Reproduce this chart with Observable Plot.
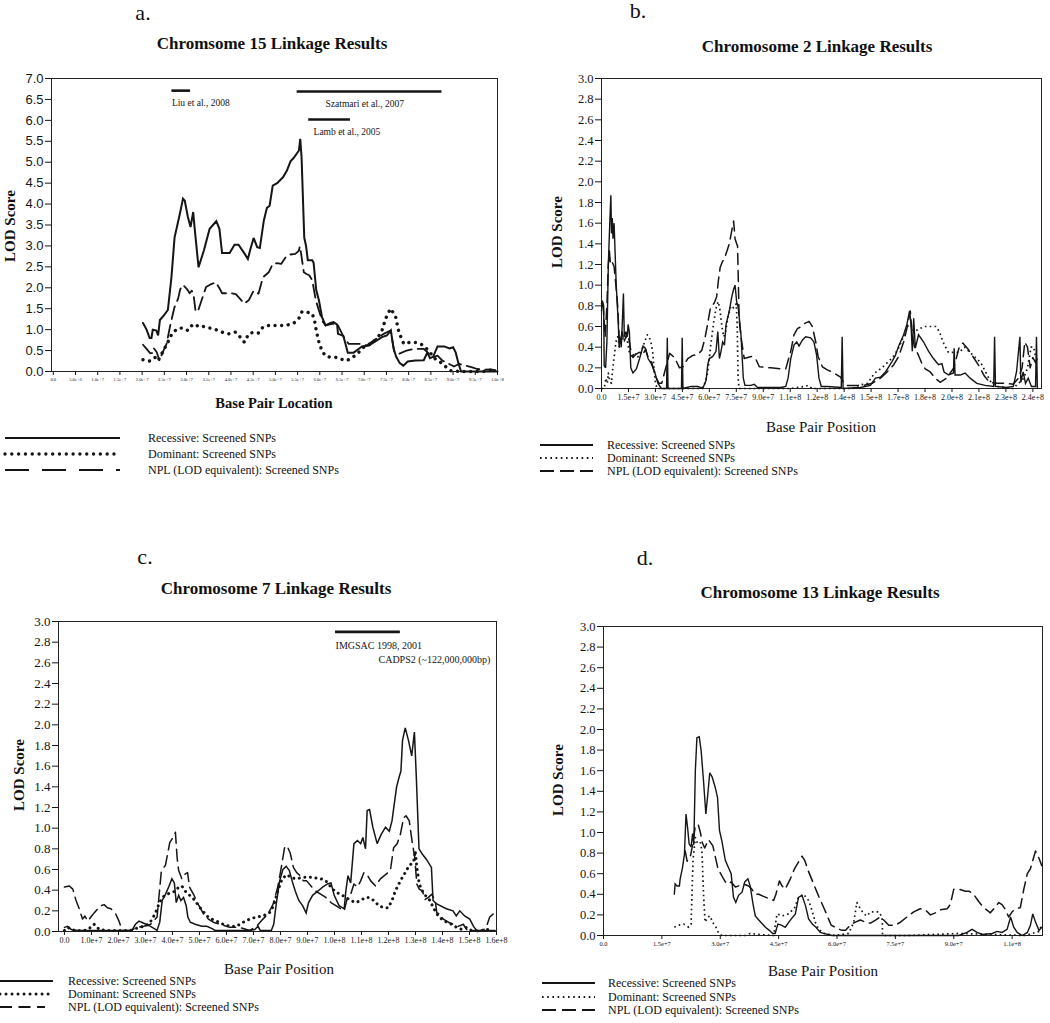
<!DOCTYPE html>
<html><head><meta charset="utf-8">
<script src="https://cdn.jsdelivr.net/npm/d3@7"></script>
<script src="https://cdn.jsdelivr.net/npm/@observablehq/plot@0.6"></script>
<style>
html,body{margin:0;padding:0;background:#fff}
body{width:1050px;height:1023px;position:relative;overflow:hidden;font-family:"Liberation Serif","Times New Roman",serif;color:#111}
.t{position:absolute;white-space:nowrap;line-height:1;transform:translate(-50%,-50%)}
.rot{transform:translate(-50%,-50%) rotate(-90deg)}
.b{font-weight:bold}
.panel{position:absolute}
.panel svg, .panel svg g, .panel svg text{font-family:"Liberation Serif","Times New Roman",serif !important}
#pa g[aria-label="y-axis tick label"], #pa g[aria-label="y-axis tick label"] text{font-family:"Liberation Sans",Arial,sans-serif !important}
.leg{position:absolute;white-space:nowrap;line-height:1;font-size:12px}
</style></head><body>
<script>
// ---------- DATA (x in megabases, y = LOD score) ----------
const seriesNames = ["Recessive: Screened SNPs", "Dominant: Screened SNPs", "NPL (LOD equivalent): Screened SNPs"];

// Chromosome 15
const chr15Recessive = [[20.2,1.16],[21.0,1.0],[21.7,0.8],[22.1,0.8],[22.4,1.0],[23.2,0.98],[23.6,0.86],[24.0,1.23],[24.9,1.34],[25.8,1.47],[26.6,2.25],[27.3,3.2],[28.5,3.77],[29.2,4.13],[29.6,4.08],[30.3,3.69],[30.9,3.45],[31.5,3.81],[31.8,3.45],[32.7,2.49],[33.9,2.89],[35.2,3.41],[36.7,3.59],[37.4,3.41],[38.0,2.83],[39.7,2.83],[40.8,3.03],[41.7,3.03],[43.1,2.81],[43.8,2.69],[44.4,2.93],[45.1,3.19],[45.9,2.97],[46.5,2.95],[47.4,3.61],[48.1,3.91],[48.7,3.96],[49.4,4.44],[50.4,4.5],[51.7,4.64],[52.6,4.8],[53.4,5.02],[54.1,5.1],[55.3,5.28],[55.6,5.56],[55.9,5.1],[56.5,3.2],[56.9,3.0],[57.3,2.66],[58.3,2.66],[58.6,2.6],[59.2,1.94],[59.8,1.7],[60.5,1.3],[61.3,1.1],[62.4,1.16],[63.1,1.18],[63.9,1.12],[64.1,0.9],[65.3,0.85],[65.8,0.65],[66.3,0.45],[67.6,0.45],[68.5,0.52],[69.5,0.6],[71.0,0.62],[72.5,0.72],[74.0,0.82],[75.1,0.86],[76.0,0.98],[76.6,0.55],[77.2,0.35],[78.0,0.2],[78.8,0.14],[79.8,0.24],[81.5,0.26],[83.4,0.27],[84.2,0.45],[84.8,0.32],[85.5,0.35],[86.5,0.6],[88.0,0.6],[89.2,0.55],[90.0,0.58],[90.6,0.45],[91.2,0.2],[91.8,0.0],[100.0,0.0]];
const chr15Dominant = [[20.2,0.28],[21.7,0.25],[23.0,0.34],[23.6,0.26],[24.8,0.5],[25.6,0.66],[26.7,0.9],[27.9,1.02],[29.0,1.04],[30.3,0.98],[31.2,1.1],[31.8,1.06],[32.7,1.11],[34.2,1.06],[36.1,1.02],[38.0,0.94],[39.5,0.9],[41.0,0.94],[42.1,0.82],[43.0,0.7],[44.0,0.9],[45.1,0.94],[46.2,0.92],[47.2,1.06],[48.5,1.1],[50.4,1.1],[52.3,1.1],[54.1,1.15],[55.3,1.27],[56.0,1.43],[57.1,1.42],[58.3,1.38],[58.8,1.23],[59.2,0.98],[59.8,0.7],[60.5,0.49],[61.3,0.37],[62.4,0.34],[63.5,0.34],[64.6,0.3],[66.1,0.26],[67.3,0.33],[68.4,0.42],[69.9,0.58],[71.4,0.66],[72.9,0.78],[74.0,0.98],[74.8,1.26],[75.9,1.5],[77.0,1.34],[77.8,0.94],[78.9,0.66],[80.4,0.7],[81.9,0.69],[83.4,0.62],[84.9,0.44],[86.0,0.3],[87.2,0.22],[88.3,0.12],[89.4,0.02],[91.7,0],[94.7,0],[97.7,0],[99.2,0.06]];
const chr15NPL = [[20.2,0.64],[21.0,0.54],[21.8,0.44],[22.3,0.44],[22.6,0.56],[23.3,0.46],[23.9,0.26],[24.6,0.45],[25.5,0.66],[26.4,1.14],[27.3,1.54],[28.1,1.74],[28.6,1.97],[29.2,2.07],[30.1,1.97],[30.7,1.87],[31.2,1.93],[31.6,1.82],[32.0,1.46],[32.5,1.42],[33.5,1.74],[34.4,2.02],[35.4,2.08],[36.6,2.13],[37.5,1.97],[38.0,1.87],[39.9,1.87],[41.1,1.85],[42.1,1.73],[43.0,1.62],[44.0,1.7],[45.1,1.93],[46.2,1.86],[47.2,2.25],[48.5,2.37],[49.4,2.57],[50.4,2.59],[51.3,2.57],[52.3,2.73],[53.0,2.79],[54.5,2.81],[55.3,2.89],[55.5,2.99],[55.8,2.81],[56.4,2.37],[57.0,2.33],[57.6,2.3],[58.3,2.18],[59.1,1.7],[59.8,1.46],[60.5,1.22],[61.3,1.1],[62.8,1.14],[63.9,1.14],[65.4,0.82],[66.5,0.66],[67.6,0.66],[69.1,0.66],[70.6,0.62],[72.1,0.74],[74.4,0.9],[75.9,0.98],[76.8,0.46],[77.8,0.42],[79.3,0.49],[81.2,0.54],[83.4,0.54],[84.6,0.42],[85.4,0.34],[86.5,0.38],[87.6,0.26],[89.1,0.18],[90.2,0.12],[91.3,0.18],[92.8,0.14],[94.3,0.1],[95.4,0.06],[96.9,0.04],[98.4,0.05],[99.5,0.03]];
const chr15Studies = [
  {label: "Liu et al., 2008", start: 26.7, end: 30.9, lod: 6.71, labelAt: 26.7},
  {label: "Szatmari et al., 2007", start: 54.9, end: 87.5, lod: 6.69, labelAt: 61.3},
  {label: "Lamb et al., 2005", start: 57.5, end: 66.9, lod: 6.02, labelAt: 58.6}
];

// Chromosome 2
const chr2Recessive = [[0,0.75],[0.5,0.85],[1.2,0.8],[1.5,0.22],[2.3,0.2],[3.0,0.45],[3.8,1.2],[4.6,1.6],[5.2,1.87],[5.6,1.5],[6.0,1.65],[6.4,1.45],[7.0,1.6],[7.6,1.3],[8.2,1.0],[8.8,0.8],[9.3,0.65],[9.8,0.4],[10.3,0.5],[11.0,0.4],[11.5,0.6],[12.2,0.92],[12.7,0.5],[13.5,0.55],[14.3,0.5],[14.8,0.62],[15.5,0.55],[16.3,0.2],[17.5,0.15],[19.4,0.19],[21.2,0.29],[23.1,0.41],[24.4,0.39],[25.9,0.29],[27.7,0.24],[29.6,0.16],[31.4,0.05],[33.3,0],[36.2,0],[36.6,0.49],[37.0,0],[44.5,0],[44.9,0.49],[45.3,0],[49.9,0.02],[53.6,0.02],[56.3,0],[58.2,0.08],[59.1,0.23],[60.0,0.29],[61.9,0.31],[63.7,0.36],[64.7,0.55],[65.6,0.29],[66.5,0.36],[67.4,0.45],[68.4,0.42],[69.3,0.62],[71.1,0.75],[72.4,0.88],[73.5,0.96],[74.3,1.0],[75.2,0.84],[76.1,0.78],[77.6,0.52],[78.9,0.1],[79.8,0.03],[83.1,0.03],[85.0,0.04],[86.8,0.01],[92.4,0.01],[99.8,0.01],[102.5,0.02],[103.8,0.1],[105.3,0.29],[107.1,0.42],[108.6,0.45],[109.9,0.41],[111.8,0.47],[113.6,0.5],[116.4,0.49],[118.2,0.45],[119.7,0.32],[121.0,0.1],[122.3,0.02],[125.6,0.02],[133.4,0.01],[133.9,0.5],[134.4,0],[144.1,0.01],[149.6,0.03],[152.4,0.1],[155.2,0.11],[158.0,0.16],[159.8,0.21],[161.6,0.26],[163.5,0.32],[165.3,0.41],[168.1,0.52],[169.9,0.62],[171.4,0.75],[172.2,0.62],[172.9,0.36],[173.7,0.68],[174.6,0.39],[176.4,0.52],[179.2,0.45],[182.0,0.36],[184.7,0.29],[187.5,0.23],[189.4,0.24],[190.6,0.16],[193.1,0.13],[195.8,0.15],[196.2,0.39],[196.7,0.13],[199.5,0.13],[202.3,0.15],[205.1,0.1],[208.8,0.05],[213.4,0.03],[218.2,0.02],[218.7,0.5],[219.2,0.02],[225.4,0.01],[229.1,0.02],[230.9,0.16],[232.8,0.5],[233.3,0.06],[234.6,0.16],[235.9,0.05],[237.4,0.1],[239.2,0.02],[241.5,0.02],[242.0,0.5],[242.5,0]];
const chr2Dominant = [[0,0],[1.5,0],[2.5,0.1],[3.2,0.05],[3.8,0.15],[4.5,0.08],[5.5,0.05],[6.0,0.15],[7.0,0.3],[8.0,0.45],[9.0,0.5],[10.0,0.4],[11.0,0.45],[12.5,0.5],[13.5,0.5],[14.5,0.45],[15.5,0.35],[17.0,0.3],[18.5,0.35],[20,0.3],[22,0.35],[24,0.45],[25.5,0.52],[26.5,0.5],[27.5,0.45],[28.5,0.35],[29.2,0.2],[30,0.05],[31,0],[55,0],[57,0.02],[59,0.15],[61,0.45],[62.5,0.65],[64,0.8],[65,0.84],[66,0.75],[67,0.6],[68,0.5],[69,0.55],[70.5,0.7],[72,0.8],[73.5,0.78],[75,0.82],[75.5,0.6],[76,0.1],[76.5,0],[85,0],[105,0],[113,0.02],[115,0.03],[117,0],[140,0],[143,0.03],[148,0.05],[152,0.15],[156,0.2],[159,0.25],[162,0.3],[165,0.38],[168,0.5],[170,0.6],[172,0.62],[174,0.55],[177,0.58],[180,0.6],[183,0.6],[186,0.6],[188,0.55],[190,0.45],[193,0.35],[196,0.35],[199,0.35],[202,0.4],[205,0.35],[208,0.3],[211,0.25],[214,0.15],[217,0.05],[220,0.02],[229,0],[232,0.05],[235,0.1],[237,0.2],[239,0.4],[240.5,0.4],[241.5,0.3]];
const chr2NPL = [[0,0.82],[1,0.78],[2,0.5],[3,0.8],[3.8,1.2],[4.4,1.33],[5.0,1.2],[6,1.22],[7,1.18],[8,1.0],[9,0.8],[9.8,0.5],[10.5,0.45],[11.5,0.55],[12.5,0.45],[13.5,0.5],[14.5,0.55],[15.5,0.45],[16.5,0.35],[17.5,0.3],[19,0.33],[21,0.35],[23,0.33],[24.5,0.38],[26,0.3],[28,0.25],[30,0.12],[32,0.05],[33.5,0.05],[35,0.15],[36.5,0.25],[37.9,0.34],[40.6,0.3],[43.4,0.2],[45.3,0.21],[48.0,0.29],[50.8,0.32],[53.6,0.33],[55.8,0.37],[57.6,0.49],[59.1,0.63],[60.6,0.78],[62.8,0.83],[64.1,0.89],[65.0,1.04],[66.0,1.17],[67.1,1.22],[68.4,1.26],[69.8,1.33],[71.1,1.4],[72.4,1.52],[73.5,1.62],[74.3,1.45],[75.2,1.4],[75.7,1.38],[76.6,0.66],[77.6,0.5],[79.4,0.29],[81.3,0.3],[83.5,0.31],[86.0,0.28],[87.8,0.21],[94.2,0.2],[99.8,0.19],[102.5,0.19],[105.3,0.36],[107.1,0.52],[109.0,0.58],[111.2,0.6],[113.1,0.63],[115.5,0.65],[117.3,0.6],[119.2,0.45],[120.5,0.31],[122.9,0.21],[125.6,0.18],[128.4,0.16],[131.2,0.13],[133.0,0.11],[134.9,0.05],[136.7,0.03],[140.4,0.03],[146.0,0.03],[150.6,0.05],[155.2,0.1],[158.9,0.16],[162.6,0.23],[165.3,0.31],[168.1,0.45],[169.9,0.58],[171.8,0.75],[172.7,0.55],[174.0,0.41],[176.4,0.32],[178.3,0.24],[180.1,0.19],[182.9,0.16],[185.7,0.1],[188.4,0.06],[192,0.1],[196,0.2],[199,0.4],[201,0.44],[204,0.38],[207,0.3],[210,0.22],[213,0.12],[216,0.06],[220,0.05],[225,0.05],[229,0.04],[232,0.1],[234,0.2],[235.5,0.45],[237,0.4],[238.5,0.2],[240,0.3],[241.5,0.25],[242.5,0.3]];

// Chromosome 7
const chr7Recessive = [[0,0.04],[1.2,0.05],[2.5,0.02],[4.9,0.01],[9.8,0.01],[15.9,0.01],[19.6,0.01],[25.0,0.01],[26.3,0.07],[27.6,0.1],[29.4,0.08],[31.9,0.05],[34.3,0.01],[35.3,0.09],[36.2,0.3],[37.4,0.36],[38.6,0.43],[39.8,0.51],[40.7,0.47],[41.4,0.28],[42.3,0.35],[43.1,0.3],[44.1,0.33],[45.1,0.25],[45.7,0.14],[46.6,0.09],[48.4,0.07],[50.9,0.05],[52.7,0.05],[54.5,0.03],[55.8,0.01],[63.7,0.01],[68.6,0.01],[70.5,0.02],[71.7,0.05],[72.5,0.01],[76.6,0.01],[77.5,0.07],[78.4,0.26],[79.7,0.49],[80.9,0.6],[82.1,0.63],[83.3,0.59],[84.3,0.49],[85.5,0.39],[86.8,0.3],[88.2,0.25],[89.5,0.18],[90.4,0.28],[91.9,0.35],[93.8,0.39],[95.6,0.43],[97.4,0.46],[98.7,0.47],[99.9,0.35],[101.7,0.25],[103.6,0.22],[104.2,0.39],[105.0,0.54],[106.0,0.47],[107.2,0.85],[108.5,0.88],[109.7,0.85],[110.5,0.91],[111.5,0.8],[112.1,1.17],[113.0,1.18],[114.2,1.01],[115.8,0.85],[117.3,0.94],[118.9,1.01],[120.3,0.97],[121.3,1.07],[123.0,1.4],[124.0,1.5],[124.6,1.55],[125.2,1.85],[126.2,1.97],[127.4,1.85],[128.6,1.7],[129.6,1.93],[130.3,1.5],[131.3,0.8],[132.5,0.75],[134.0,0.7],[135.9,0.62],[136.5,0.3],[137.7,0.27],[141.4,0.22],[143.9,0.2],[145.1,0.15],[146.4,0.2],[148.2,0.15],[150.1,0.12],[151.5,0.05],[152.9,0.0],[156,0.01],[159.5,0.01]];
const chr7Dominant = [[0,0.01],[1.2,0.04],[3.7,0.01],[7.4,0.01],[9.8,0.04],[11.0,0.07],[12.9,0.02],[15.3,0.01],[19.6,0.01],[24.5,0.01],[27.6,0.04],[29.4,0.05],[31.2,0.07],[32.5,0.12],[33.7,0.18],[34.9,0.26],[36.2,0.33],[38.0,0.36],[39.8,0.38],[41.1,0.39],[42.3,0.43],[43.5,0.44],[44.7,0.39],[46.0,0.36],[47.2,0.33],[48.4,0.3],[49.6,0.25],[51.2,0.2],[52.7,0.15],[54.5,0.12],[56.4,0.1],[58.8,0.07],[61.3,0.05],[63.7,0.05],[66.2,0.09],[68.6,0.12],[71.1,0.14],[73.5,0.15],[75.9,0.18],[77.5,0.25],[79.0,0.39],[80.6,0.51],[82.4,0.55],[84.0,0.52],[85.8,0.51],[87.6,0.52],[90.1,0.53],[92.5,0.52],[95.0,0.51],[96.8,0.49],[98.7,0.43],[100.5,0.38],[102.3,0.36],[104.2,0.33],[106.0,0.3],[107.8,0.28],[109.7,0.3],[111.5,0.33],[112.7,0.33],[114.6,0.3],[116.4,0.25],[118.3,0.23],[119.9,0.23],[121.3,0.3],[122.5,0.39],[124.4,0.49],[126.2,0.57],[127.7,0.64],[129.3,0.67],[129.9,0.78],[130.5,0.62],[131.4,0.46],[132.6,0.39],[134.2,0.33],[135.4,0.3],[136.6,0.23],[137.9,0.17],[139.7,0.12],[141.5,0.09],[143.4,0.07],[145.2,0.04],[147.1,0.02],[148.9,0.04],[150.7,0.01],[154.4,0.01],[156.9,0.02],[158.7,0.01]];
const chr7NPL = [[0,0.43],[1.8,0.44],[3.1,0.41],[4.3,0.3],[5.5,0.22],[6.7,0.12],[7.6,0.15],[8.6,0.1],[9.8,0.14],[11.0,0.18],[12.3,0.22],[13.5,0.25],[14.7,0.26],[15.9,0.23],[17.2,0.22],[19.0,0.17],[20.2,0.1],[21.4,0.01],[24.5,0.01],[27.0,0.04],[29.4,0.05],[31.9,0.07],[34.3,0.14],[35.9,0.59],[37.4,0.64],[39.0,0.86],[40.2,0.91],[41.1,0.96],[41.7,0.72],[42.3,0.59],[43.5,0.51],[44.4,0.55],[45.6,0.57],[46.3,0.43],[47.8,0.36],[49.6,0.26],[51.5,0.17],[53.3,0.12],[55.1,0.09],[57.6,0.07],[61.3,0.04],[64.9,0.04],[68.6,0.01],[71.1,0.05],[73.5,0.12],[75.4,0.17],[77.2,0.26],[79.0,0.43],[80.3,0.62],[81.5,0.81],[82.4,0.83],[83.6,0.76],[84.8,0.62],[86.0,0.57],[87.3,0.54],[88.5,0.49],[89.7,0.49],[91.3,0.44],[93.1,0.39],[95.0,0.36],[96.8,0.33],[98.7,0.28],[99.9,0.26],[101.7,0.23],[103.6,0.2],[104.8,0.33],[106.0,0.36],[107.2,0.46],[108.5,0.43],[109.7,0.49],[110.9,0.57],[112.1,0.55],[113.4,0.49],[115.2,0.44],[117.0,0.51],[118.9,0.55],[120.7,0.59],[121.9,0.81],[123.2,0.85],[124.4,0.94],[125.6,1.1],[126.5,1.12],[127.7,1.07],[128.7,0.88],[129.7,0.72],[130.5,0.46],[131.4,0.41],[132.6,0.39],[133.6,0.31],[134.8,0.33],[136.0,0.36],[137.3,0.3],[137.9,0.18],[139.1,0.17],[140.3,0.12],[142.2,0.09],[144.0,0.07],[145.8,0.05],[147.7,0.07],[148.9,0.02],[150.7,0.01],[153.2,0.01],[155.0,0.01],[156.3,0.05],[157.5,0.14],[158.8,0.17],[159.4,0.16]];
const chr7Studies = [
  {label: "IMGSAC 1998, 2001", start: 100.4, end: 124.4, lod: 2.9, labelAt: 100.4}
];
const chr7Gene = [{label: "CADPS2 (~122,000,000bp)", labelAt: 116.3, lod: 2.9}];

// Chromosome 13
const chr13Recessive = [[18.2,0.4],[18.4,0.5],[18.9,0.48],[19.5,0.48],[19.7,0.55],[20.3,0.66],[20.8,0.79],[21.2,1.18],[21.6,1.05],[22.0,0.89],[22.5,0.86],[22.9,0.99],[23.2,0.88],[23.6,1.6],[24.0,1.92],[24.6,1.93],[25.1,1.79],[25.7,1.5],[26.3,1.18],[26.8,1.37],[27.3,1.58],[27.9,1.54],[28.7,1.44],[29.3,1.34],[29.8,1.02],[30.4,0.92],[31.3,0.73],[32.1,0.66],[32.8,0.6],[33.4,0.37],[34.0,0.32],[34.7,0.39],[35.6,0.42],[36.3,0.52],[37.1,0.55],[37.7,0.48],[38.4,0.31],[39.0,0.19],[39.9,0.15],[40.9,0.11],[41.6,0.08],[42.6,0.05],[43.5,0.02],[44.1,0.02],[44.8,0.11],[45.7,0.1],[46.7,0.08],[48.0,0.15],[49.3,0.21],[50.1,0.37],[51.0,0.39],[51.9,0.29],[52.7,0.16],[53.7,0.11],[54.6,0.08],[55.7,0.03],[56.6,0.02],[58.7,0],[65.6,0],[74.1,0],[82.7,0],[91.3,0],[93.4,0.03],[94.7,0.06],[96.0,0.03],[97.3,0.01],[99.9,0.02],[101.1,0.04],[102.4,0.03],[103.7,0.06],[104.6,0.18],[105.4,0.08],[106.3,0.03],[107.6,0],[108.9,0.03],[109.7,0.1],[110.3,0.21],[111.0,0.13],[111.9,0.05],[112.6,0.08]];
const chr13Dominant = [[18.2,0.08],[19.3,0.1],[20.6,0.11],[21.9,0.08],[22.5,0.11],[23.0,0.73],[23.6,0.95],[24.2,0.89],[24.9,0.9],[25.3,0.82],[25.7,0.4],[26.1,0.13],[26.8,0.18],[27.4,0.19],[28.0,0.13],[28.9,0.08],[29.6,0.02],[30.4,0],[36.4,0],[37.7,0.02],[39.9,0.01],[43.7,0],[44.6,0.21],[45.9,0.19],[47.6,0.21],[49.1,0.27],[50.1,0.37],[51.4,0.4],[52.7,0.34],[53.6,0.24],[54.4,0.13],[55.3,0.06],[56.6,0.02],[59.6,0],[63.0,0.02],[64.3,0.13],[65.1,0.32],[66.0,0.26],[66.9,0.21],[67.7,0.19],[68.6,0.23],[69.4,0.23],[70.7,0.23],[71.6,0.18],[71.7,0],[78.4,0],[91.3,0.02],[99.9,0.01],[108.4,0],[111.9,0.04],[112.6,0.1]];
const chr13NPL = [[21.0,0.82],[21.5,0.72],[22.4,0.78],[23.0,0.9],[23.6,1.07],[24.4,1.07],[24.9,1.0],[25.4,0.9],[26.0,0.85],[27.0,0.93],[28.1,0.87],[29.4,0.65],[30.4,0.58],[31.3,0.52],[32.1,0.5],[32.8,0.52],[33.9,0.47],[36.0,0.5],[37.3,0.48],[38.1,0.45],[39.0,0.4],[39.9,0.4],[41.1,0.38],[42.4,0.36],[43.7,0.34],[44.3,0.4],[45.2,0.53],[45.9,0.48],[46.7,0.45],[48.0,0.55],[49.1,0.65],[51.0,0.77],[51.7,0.73],[52.7,0.62],[54.0,0.5],[55.3,0.38],[56.6,0.27],[57.4,0.2],[58.5,0.1],[60.0,0.07],[61.3,0.05],[62.2,0.05],[63.4,0.1],[64.7,0.13],[66.0,0.15],[67.3,0.13],[68.6,0.12],[69.9,0.15],[71.1,0.18],[72.0,0.15],[73.3,0.1],[75.0,0.1],[76.3,0.13],[78.0,0.18],[79.7,0.23],[81.4,0.26],[82.7,0.25],[84.0,0.2],[85.3,0.22],[86.6,0.25],[88.3,0.26],[89.1,0.3],[90.0,0.45],[91.3,0.45],[93.0,0.43],[93.9,0.43],[95.1,0.4],[96.4,0.33],[97.7,0.27],[99.4,0.22],[100.7,0.28],[101.6,0.32],[102.4,0.3],[103.3,0.25],[104.1,0.18],[105.0,0.23],[105.9,0.26],[107.1,0.27],[108.0,0.45],[108.9,0.6],[109.7,0.65],[111.0,0.82],[111.9,0.75],[112.6,0.68]];

// Axis ticks (megabases / LOD)
const chr15XTicks = d3.range(0, 100.1, 5);
const chr2XTicks = d3.range(0, 241, 15);
const chr7XTicks = d3.range(0, 161, 10);
const chr13XTicks = d3.range(0, 106, 15);
const chr15YTicks = d3.range(0, 7.01, 0.5);
const lodYTicks = d3.range(0, 3.01, 0.2);

// ---------- RENDERING ----------
const INK = "#151515";
const fmtBp = d => Math.abs(d) < 1e-9 ? "0.0" : (Math.round(d * 1e6)).toExponential(1);
const fmtLod = d3.format(".1f");

function addText(txt, x, y, cls, size) {
  const el = document.createElement("div");
  el.className = "t " + (cls || "");
  el.style.left = x + "px"; el.style.top = y + "px"; el.style.fontSize = size + "px";
  el.textContent = txt;
  document.body.appendChild(el);
}

function addLegend(rows, x0, x1, textLeft, ys, sty) {
  rows.forEach((name, i) => {
    const s = sty[i];
    const div = document.createElement("div");
    div.className = "leg";
    div.style.left = textLeft + "px"; div.style.top = (ys[i] - 6) + "px";
    div.textContent = name;
    document.body.appendChild(div);
    const ns = "http://www.w3.org/2000/svg";
    const svg = document.createElementNS(ns, "svg");
    svg.setAttribute("width", 1050); svg.setAttribute("height", 10);
    svg.style.position = "absolute"; svg.style.left = "0px"; svg.style.top = (ys[i] - 5) + "px";
    const ln = document.createElementNS(ns, "line");
    ln.setAttribute("x1", x0); ln.setAttribute("x2", s.x1 ?? x1);
    ln.setAttribute("y1", 5); ln.setAttribute("y2", 5);
    ln.setAttribute("stroke", INK);
    ln.setAttribute("stroke-width", s.w);
    if (s.dash) ln.setAttribute("stroke-dasharray", s.dash);
    if (s.cap) ln.setAttribute("stroke-linecap", s.cap);
    svg.appendChild(ln);
    document.body.appendChild(svg);
  });
}

function panel(o) {
  const marks = [
    Plot.frame({stroke: "#222", strokeWidth: 1}),
    Plot.axisX({ticks: o.xTicks, tickFormat: fmtBp, tickSize: 4, tickPadding: 2, fontSize: o.xFont, label: null}),
    Plot.axisY({ticks: o.yTicks, tickFormat: fmtLod, tickSize: 6, tickPadding: 2, fontSize: o.yFont, label: null}),
    Plot.line(o.npl, {x: d => d[0], y: d => d[1], stroke: INK, strokeWidth: o.sty[2].w, strokeDasharray: o.sty[2].dash}),
    Plot.line(o.dominant, {x: d => d[0], y: d => d[1], stroke: INK, strokeWidth: o.sty[1].w, strokeDasharray: o.sty[1].dash, strokeLinecap: o.sty[1].cap || "butt"}),
    Plot.line(o.recessive, {x: d => d[0], y: d => d[1], stroke: INK, strokeWidth: o.sty[0].w, strokeLinejoin: "miter", strokeMiterlimit: 3}),
    ...(o.extra || [])
  ];
  const chart = Plot.plot({
    width: o.width, height: o.height,
    marginLeft: o.ml, marginRight: o.mr, marginTop: o.mt, marginBottom: o.mb,
    x: {domain: o.xDomain}, y: {domain: o.yDomain},
    style: {color: INK, background: "transparent"},
    marks
  });
  const wrap = document.createElement("div");
  wrap.className = "panel";
  wrap.id = o.id;
  wrap.style.left = o.left + "px"; wrap.style.top = o.top + "px";
  wrap.appendChild(chart);
  document.body.appendChild(wrap);
}

// Line styles
const styA = [{w: 2}, {w: 3.4, dash: "0.01 6.6", cap: "round"}, {w: 1.8, dash: "13 6"}];
const styB = [{w: 1.4}, {w: 1.7, dash: "1.6 3.2"}, {w: 1.5, dash: "11 6"}];
const styC = [{w: 1.5}, {w: 3, dash: "0.01 5.6", cap: "round"}, {w: 1.5, dash: "12 6"}];

// Panel a: Chromosome 15
panel({
  id: "pa", left: 0, top: 70, width: 525, height: 321, ml: 51, mr: 28, mt: 8, mb: 20,
  xDomain: [-0.4, 100], yDomain: [0, 7], xTicks: chr15XTicks, yTicks: chr15YTicks,
  xFont: 4.6, yFont: 13,
  recessive: chr15Recessive, dominant: chr15Dominant, npl: chr15NPL, sty: styA,
  extra: [
    Plot.ruleY(chr15Studies, {x1: "start", x2: "end", y: "lod", stroke: INK, strokeWidth: 2.6}),
    Plot.text(chr15Studies, {x: "labelAt", y: "lod", text: "label", textAnchor: "start", dy: 12, fontSize: 9.5, fill: INK})
  ]
});

// Panel b: Chromosome 2
panel({
  id: "pb", left: 525, top: 70, width: 525, height: 338, ml: 76, mr: 9, mt: 8, mb: 20,
  xDomain: [0, 244.8], yDomain: [0, 3], xTicks: chr2XTicks, yTicks: lodYTicks,
  xFont: 8, yFont: 12.5,
  recessive: chr2Recessive, dominant: chr2Dominant, npl: chr2NPL, sty: styB
});

// Panel c: Chromosome 7
panel({
  id: "pc", left: 0, top: 613, width: 525, height: 338, ml: 58, mr: 29, mt: 8, mb: 20,
  xDomain: [-2.2, 160], yDomain: [0, 3], xTicks: chr7XTicks, yTicks: lodYTicks,
  xFont: 8, yFont: 13,
  recessive: chr7Recessive, dominant: chr7Dominant, npl: chr7NPL, sty: styC,
  extra: [
    Plot.ruleY(chr7Studies, {x1: "start", x2: "end", y: "lod", stroke: INK, strokeWidth: 2.6}),
    Plot.text(chr7Studies, {x: "labelAt", y: "lod", text: "label", textAnchor: "start", dy: 14, fontSize: 10, fill: INK}),
    Plot.text(chr7Gene, {x: "labelAt", y: "lod", text: "label", textAnchor: "start", dy: 28, fontSize: 10, fill: INK})
  ]
});

// Panel d: Chromosome 13
panel({
  id: "pd", left: 525, top: 618, width: 525, height: 337, ml: 78, mr: 8, mt: 8, mb: 20,
  xDomain: [0, 112.8], yDomain: [0, 3], xTicks: chr13XTicks, yTicks: lodYTicks,
  xFont: 6.5, yFont: 12.5,
  recessive: chr13Recessive, dominant: chr13Dominant, npl: chr13NPL, sty: styB
});

// Titles, panel letters and axis titles
addText("a.", 143, 13, "", 22);
addText("b.", 638, 11, "", 22);
addText("c.", 145, 557, "", 22);
addText("d.", 645, 558, "", 22);
addText("Chromsome 15 Linkage Results", 272, 43, "b", 17);
addText("Chromosome 2 Linkage Results", 817, 46, "b", 17);
addText("Chromosome 7 Linkage Results", 276, 588, "b", 17);
addText("Chromosome 13 Linkage Results", 820, 592, "b", 17);
addText("LOD Score", 10, 226, "b rot", 15);
addText("LOD Score", 557, 232, "b rot", 15);
addText("LOD Score", 19, 775, "b rot", 15);
addText("LOD Score", 558, 780, "b rot", 15);
addText("Base Pair Location", 274, 403, "b", 14.5);
addText("Base Pair Position", 821, 427, "", 15);
addText("Base Pair Position", 279, 969, "", 15);
addText("Base Pair Position", 823, 971, "", 15);

// Legends
addLegend(seriesNames, 5, 120, 148, [438, 454, 470],
  [{w: 2}, {w: 3.4, dash: "0.01 6.8", cap: "round"}, {w: 2, dash: "24 13"}]);
addLegend(seriesNames, 540, 593, 607, [445, 458, 471],
  [{w: 2}, {w: 1.8, dash: "1.6 3.6"}, {w: 2, dash: "14 6"}]);
addLegend(seriesNames, 0, 53, 68, [981, 994, 1007],
  [{w: 2}, {w: 3, dash: "0.01 6", cap: "round"}, {w: 2, dash: "12 6.5", x1: 45}]);
addLegend(seriesNames, 542, 595, 608, [983, 997, 1010],
  [{w: 2}, {w: 1.8, dash: "1.6 3.6"}, {w: 2, dash: "14 6"}]);
</script>
</body></html>
